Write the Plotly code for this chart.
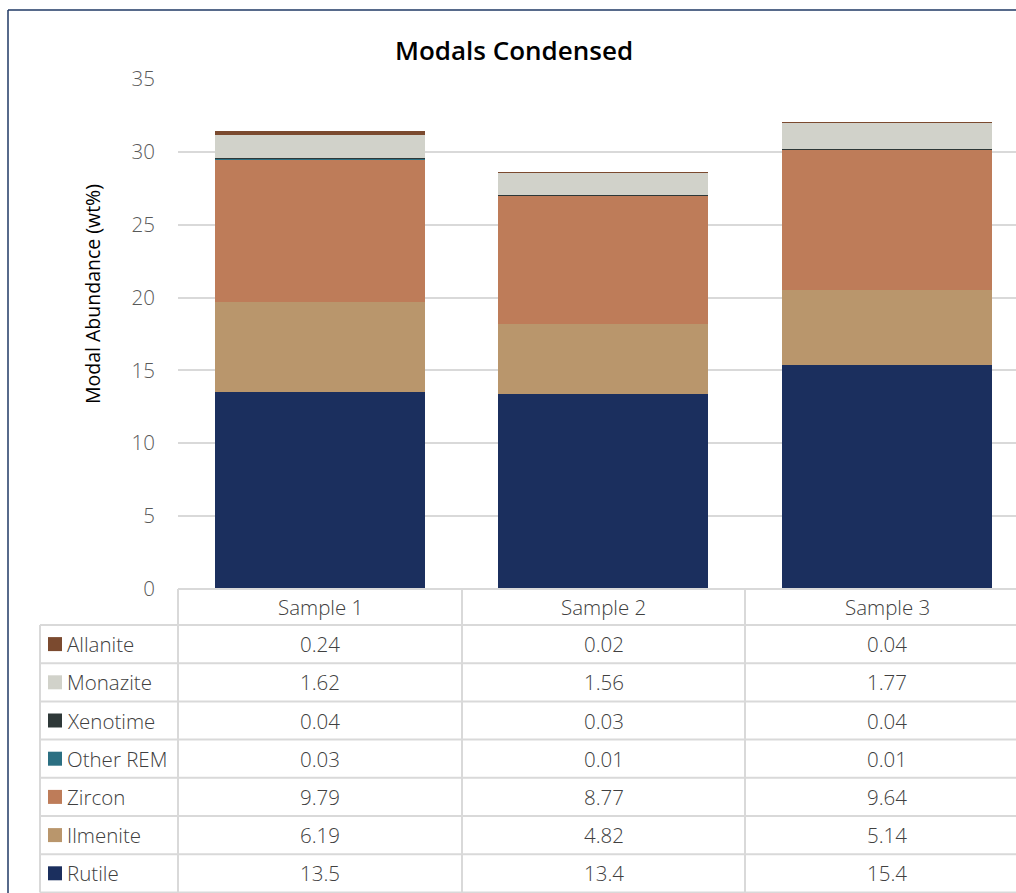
import plotly.graph_objects as go

# Chart data
samples = ["Sample 1", "Sample 2", "Sample 3"]
minerals = ["Allanite", "Monazite", "Xenotime", "Other REM", "Zircon", "Ilmenite", "Rutile"]
allanite = [0.24, 0.02, 0.04]
monazite = [1.62, 1.56, 1.77]
xenotime = [0.04, 0.03, 0.04]
other_rem = [0.03, 0.01, 0.01]
zircon = [9.79, 8.77, 9.64]
ilmenite = [6.19, 4.82, 5.14]
rutile = [13.5, 13.4, 15.4]
y_ticks = [0, 5, 10, 15, 20, 25, 30, 35]

values = {
    "Allanite": allanite, "Monazite": monazite, "Xenotime": xenotime,
    "Other REM": other_rem, "Zircon": zircon, "Ilmenite": ilmenite, "Rutile": rutile,
}
colors = {
    "Allanite": "#7b4a2f", "Monazite": "#d1d2ca", "Xenotime": "#2e3838",
    "Other REM": "#2b6f82", "Zircon": "#be7c59", "Ilmenite": "#b9966c", "Rutile": "#1b2f5e",
}

W, H = 1016, 893
PL, PR, PT, PB = 178, 1016, 79, 589  # plot area in pixels
FONT = "Open Sans"
TXT = 20.5


def px(x):
    return (x - PL) / (PR - PL)


def py(y):
    return (PB - y) / (PB - PT)


fig = go.Figure()
# stacked from the bottom up
for name in reversed(minerals):
    fig.add_trace(go.Bar(
        x=samples, y=values[name], name=name, width=0.74,
        marker=dict(color=colors[name], line=dict(width=0)),
        showlegend=False,
    ))

# category spacing 283.5 px; the right part of the last slot is cut off by the frame edge
cat_w = 283.5
x_hi = -0.5 + (PR - PL) / cat_w

shapes = []
grid = "#d9d9d9"


def hline(x0, x1, y, color=grid, w=2):
    shapes.append(dict(type="line", xref="paper", yref="paper",
                       x0=px(x0), x1=px(x1), y0=py(y), y1=py(y),
                       line=dict(color=color, width=w), layer="above"))


def vline(x, y0, y1, color=grid, w=2):
    shapes.append(dict(type="line", xref="paper", yref="paper",
                       x0=px(x), x1=px(x), y0=py(y0), y1=py(y1),
                       line=dict(color=color, width=w), layer="above"))


# data table beneath the plot
row_top = 625
row_h = 38.2
n_rows = len(minerals)
table_bottom = row_top + n_rows * row_h
hline(PL, W + 5, PB)
for i in range(n_rows + 1):
    hline(40, W + 5, row_top + i * row_h)
vline(40, row_top, table_bottom)
for xv in [PL, 462, 745]:
    vline(xv, PB, table_bottom)

light = dict(family=FONT, size=TXT, color="#404040", weight=300)

annotations = []
col_centers = [320, 603.5, 887]
for s, cx in zip(samples, col_centers):
    annotations.append(dict(x=px(cx), y=py((PB + row_top) / 2), xref="paper", yref="paper",
                            text=s, showarrow=False, xanchor="center", yanchor="middle",
                            font=light))

for i, name in enumerate(minerals):
    cy = row_top + (i + 0.5) * row_h
    shapes.append(dict(type="rect", xref="paper", yref="paper",
                       x0=px(48), x1=px(62), y0=py(cy - 7), y1=py(cy + 7),
                       fillcolor=colors[name], line=dict(width=0), layer="above"))
    annotations.append(dict(x=px(65), y=py(cy), xref="paper", yref="paper",
                            text=name, showarrow=False, xanchor="left", yanchor="middle",
                            font=light))
    for j, cx in enumerate(col_centers):
        annotations.append(dict(x=px(cx), y=py(cy), xref="paper", yref="paper",
                                text=f"{values[name][j]:g}", showarrow=False,
                                xanchor="center", yanchor="middle",
                                font=light))

# outer chart frame
frame = "#1f3864"
shapes.append(dict(type="line", xref="paper", yref="paper", x0=px(8), x1=px(W + 5),
                   y0=py(10), y1=py(10), line=dict(color=frame, width=1.5), layer="above"))
shapes.append(dict(type="line", xref="paper", yref="paper", x0=px(8), x1=px(8),
                   y0=py(10), y1=py(H + 5), line=dict(color=frame, width=1.5), layer="above"))

# title and axis title
annotations.append(dict(x=px(514), y=py(50), xref="paper", yref="paper",
                        text="Modals Condensed", showarrow=False,
                        xanchor="center", yanchor="middle",
                        font=dict(family=FONT, size=26, color="#000000", weight=600)))
annotations.append(dict(x=px(92), y=py(294), xref="paper", yref="paper",
                        text="Modal Abundance (wt%)", showarrow=False, textangle=-90,
                        xanchor="center", yanchor="middle",
                        font=dict(family=FONT, size=19.5, color="#000000")))

fig.update_layout(
    barmode="stack",
    width=W, height=H,
    margin=dict(l=PL, r=W - PR, t=PT, b=H - PB),
    plot_bgcolor="white", paper_bgcolor="white",
    xaxis=dict(range=[-0.5, x_hi], showticklabels=False, showgrid=False,
               zeroline=False, showline=False, fixedrange=True),
    yaxis=dict(range=[0, 35], tickvals=y_ticks, showgrid=True, gridcolor=grid,
               gridwidth=2, zeroline=False, showline=False,
               tickfont=dict(family=FONT, size=20.5, color="#595959", weight=300),
               ticklabelstandoff=22),
    shapes=shapes,
    annotations=annotations,
    font=dict(family=FONT),
)

fig.write_html("out.html")
